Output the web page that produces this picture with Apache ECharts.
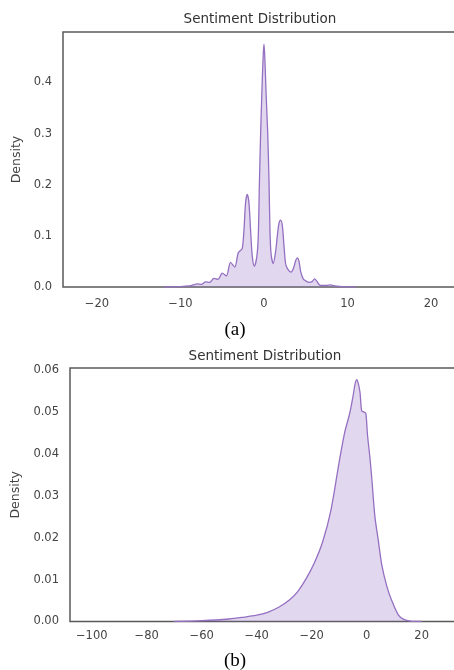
<!DOCTYPE html>
<html>
<head>
<meta charset="utf-8">
<script src="https://cdn.jsdelivr.net/npm/echarts@6/dist/echarts.min.js"></script>
<style>
    html, body { margin: 0; padding: 0; background: #fff; }
    #chart { width: 454px; height: 670px; }
</style>
</head>
<body>
<div id="chart"></div>
<script>
    // panel (a): sentiment score density, narrow range
    var xA = [-12, -10, -9, -8.5, -8, -7.5, -7, -6.5, -6, -5.5, -5, -4.5, -4, -3.5, -3.1, -2.85, -2.6, -2.4, -2.2, -2,
        -1.8, -1.6, -1.4, -1.15, -0.85, -0.68, -0.55, -0.4, -0.25, -0.1, 0, 0.1, 0.25, 0.45, 0.6, 0.72, 0.85, 1.1, 1.4, 1.6,
        1.8, 2, 2.2, 2.4, 2.6, 2.85, 3.25, 3.6, 3.8, 4, 4.2, 4.4, 4.7, 5, 5.4, 5.8, 6.05, 6.3, 6.6, 6.9,
        7.4, 8, 8.5, 9, 10, 11];
    var yA = [0, 0.0008, 0.002, 0.004, 0.006, 0.005, 0.010, 0.009, 0.017, 0.015, 0.027, 0.022, 0.048, 0.039, 0.066, 0.071, 0.075, 0.11, 0.165, 0.181,
        0.165, 0.11, 0.06, 0.041, 0.06, 0.10, 0.20, 0.30, 0.38, 0.45, 0.475, 0.45, 0.38, 0.30, 0.21, 0.11, 0.065, 0.046, 0.07, 0.10,
        0.125, 0.131, 0.12, 0.08, 0.045, 0.035, 0.029, 0.04, 0.052, 0.057, 0.05, 0.03, 0.016, 0.012, 0.009, 0.011, 0.016, 0.012, 0.005, 0.003,
        0.003, 0.004, 0.002, 0.001, 0.0003, 0];

    // panel (b): sentiment score density, wide range
    var xB = [-70, -60, -50, -45, -40, -36, -32, -28, -25, -22, -19, -16, -13, -10, -8, -6.2, -5, -4.2, -3.6, -3,
        -2.4, -1.8, -1.0, -0.3, 0.3, 1.2, 2, 3, 4.2, 5.5, 7.3, 9, 11.5, 13.5, 16, 20];
    var yB = [0, 0.0002, 0.0006, 0.001, 0.0015, 0.0022, 0.0034, 0.0052, 0.0072, 0.0102, 0.014, 0.019, 0.0265, 0.038, 0.045,
        0.0495, 0.0535, 0.0566, 0.0576, 0.0566, 0.0545, 0.0502, 0.0499, 0.0496, 0.0445, 0.039, 0.033, 0.025, 0.0195, 0.0135,
        0.0085, 0.0052, 0.0016, 0.0005, 0.0001, 0];

    var titleText = 'Sentiment Distribution';
    var yName = 'Density';
    var captions = ['(a)', '(b)'];

    var FONT = 'DejaVu Sans';
    var LINE = '#9570c2';

    function pairs(xs, ys) {
        var out = [];
        for (var i = 0; i < xs.length; i++) {
            out.push([xs[i], ys[i]]);
        }
        return out;
    }

    /** only label the round ticks, matplotlib style minus */
    function tickFormatter(step, digits) {
        return function (v) {
            var k = v / step;
            if (Math.abs(k - Math.round(k)) > 1e-6) {
                return '';
            }
            var s = (Math.round(k) * step).toFixed(digits);
            return s.replace('-', '\u2212');
        };
    }

    function xAxisCfg(grid, min, max, split, step, margin) {
        return {
            type: 'value', gridIndex: grid, min: min, max: max, splitNumber: split,
            axisLine: {show: false}, axisTick: {show: false}, splitLine: {show: false},
            axisLabel: {
                color: '#444', fontFamily: FONT, fontSize: 11.5, margin: margin,
                formatter: tickFormatter(step, 0)
            }
        };
    }

    function yAxisCfg(grid, max, step, digits, gap) {
        return {
            type: 'value', gridIndex: grid, min: 0, max: max, interval: step,
            name: yName, nameLocation: 'middle', nameGap: gap, nameRotate: 90,
            nameTextStyle: {color: '#444', fontFamily: FONT, fontSize: 12.5},
            axisLine: {show: false}, axisTick: {show: false}, splitLine: {show: false},
            axisLabel: {
                color: '#444', fontFamily: FONT, fontSize: 11.5, margin: 11,
                formatter: tickFormatter(step, digits)
            }
        };
    }

    function kde(idx, data, smooth) {
        return {
            type: 'line', xAxisIndex: idx, yAxisIndex: idx, data: data,
            showSymbol: false, smooth: smooth,
            lineStyle: {color: LINE, width: 1.3},
            areaStyle: {color: LINE, opacity: 0.28},
            silent: true
        };
    }

    function textEl(x, y, txt, size, family, color) {
        return {
            type: 'text', x: x, y: y,
            style: {
                text: txt, fontSize: size, fontFamily: family, fill: color,
                textAlign: 'center', textVerticalAlign: 'middle'
            }
        };
    }

    var myChart = echarts.init(document.getElementById('chart'), null, {renderer: 'canvas'});

    var option = {
        animation: false,
        backgroundColor: '#fff',
        grid: [
            {left: 63, top: 32, right: -2, height: 255, outerBoundsMode: 'none',
                show: true, borderColor: '#5a5a5a', borderWidth: 1.5},
            {left: 70, top: 368, right: -2, height: 253.5, outerBoundsMode: 'none',
                show: true, borderColor: '#5a5a5a', borderWidth: 1.5}
        ],
        xAxis: [
            xAxisCfg(0, -24.07, 23.0, 5, 10, 11),
            xAxisCfg(1, -107.9, 32.5, 7, 20, 9)
        ],
        yAxis: [
            yAxisCfg(0, 0.4988, 0.1, 1, 38),
            yAxisCfg(1, 0.0604, 0.01, 2, 45)
        ],
        series: [
            kde(0, pairs(xA, yA), 0.3),
            kde(1, pairs(xB, yB), 0.3)
        ],
        graphic: [
            textEl(260, 19, titleText, 13.5, FONT, '#333'),
            textEl(265, 356, titleText, 13.5, FONT, '#333'),
            textEl(235, 330, captions[0], 19, 'Liberation Serif', '#000'),
            textEl(235, 661, captions[1], 19, 'Liberation Serif', '#000')
        ]
    };
    myChart.setOption(option);
</script>
</body>
</html>
